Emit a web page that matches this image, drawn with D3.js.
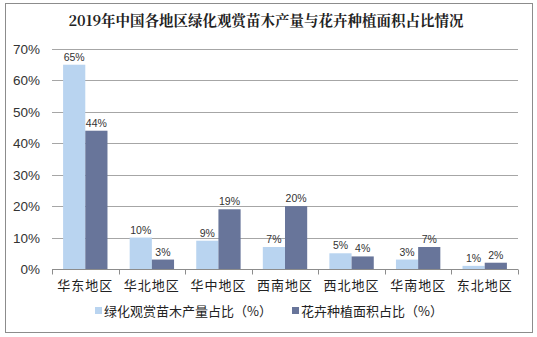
<!DOCTYPE html>
<html><head><meta charset="utf-8">
<script src="https://cdn.jsdelivr.net/npm/d3@7"></script>
<style>body{margin:0;background:#fff;}svg{display:block;}</style>
</head><body>
<svg id="c" width="537" height="337"></svg>
<script>
const categories = ["华东地区","华北地区","华中地区","西南地区","西北地区","华南地区","东北地区"];
const seedlingShare = [65,10,9,7,5,3,1];
const flowerShare = [44,3,19,20,4,7,2];
const seriesNames = ["绿化观赏苗木产量占比（%）","花卉种植面积占比（%）"];
const yTicks = [0,10,20,30,40,50,60,70];
const colors = ["#B9D4F0","#68759A"];
const font = "'Liberation Sans', Arial, 'Noto Sans CJK SC', sans-serif";

const svg = d3.select("#c");
svg.append("rect").attr("x",5.5).attr("y",3.5).attr("width",527).attr("height",329)
  .attr("fill","#fff").attr("stroke","#8c8c8c").attr("stroke-width",1);

svg.append("text").attr("x",266).attr("y",26).attr("text-anchor","middle")
  .attr("font-family","'Noto Serif CJK SC','Noto Sans CJK SC',serif").attr("font-weight","bold")
  .attr("font-size",14.5).attr("fill","#222").text("2019年中国各地区绿化观赏苗木产量与花卉种植面积占比情况");

const x = d3.scaleBand().domain(categories).range([52,518]).paddingInner(0).paddingOuter(0);
const y = d3.scaleLinear().domain([0,70]).range([269,49]);
const xs = d3.scaleBand().domain([0,1]).range([0,x.bandwidth()]).paddingInner(0).paddingOuter(0.5);

// gridlines
svg.append("g").selectAll("line").data(yTicks.filter(d=>d>0)).join("line")
  .attr("x1",52).attr("x2",518).attr("y1",d=>Math.round(y(d))+0.5).attr("y2",d=>Math.round(y(d))+0.5)
  .attr("stroke","#a6a6a6").attr("stroke-width",1);

// y labels
svg.append("g").selectAll("text").data(yTicks).join("text")
  .attr("x",40).attr("y",d=>y(d)+5).attr("text-anchor","end")
  .attr("font-family",font).attr("font-size",13.5).attr("fill","#333").text(d=>d+"%");

const data = [seedlingShare, flowerShare];
data.forEach((vals,si)=>{
  const g = svg.append("g");
  g.selectAll("rect").data(vals).join("rect")
    .attr("x",(d,i)=>x(categories[i])+xs(si)).attr("width",xs.bandwidth())
    .attr("y",d=>y(d)).attr("height",d=>y(0)-y(d)).attr("fill",colors[si]);
  g.selectAll("text").data(vals).join("text")
    .attr("x",(d,i)=>x(categories[i])+xs(si)+xs.bandwidth()/2).attr("y",d=>y(d)-4)
    .attr("text-anchor","middle").attr("font-family",font).attr("font-size",10.5).attr("fill","#333")
    .text(d=>d+"%");
});

// x axis
const xa = svg.append("g").attr("transform","translate(0,269.5)");
xa.append("line").attr("x1",52).attr("x2",518).attr("stroke","#8c8c8c");
const tickPos = categories.map(c=>x(c)).concat([518]);
xa.selectAll("line.t").data(tickPos).join("line").attr("class","t")
  .attr("x1",d=>Math.round(d)+0.5).attr("x2",d=>Math.round(d)+0.5).attr("y1",0).attr("y2",5).attr("stroke","#8c8c8c");
xa.selectAll("text").data(categories).join("text")
  .attr("x",d=>x(d)+x.bandwidth()/2).attr("y",20).attr("text-anchor","middle")
  .attr("font-family","'Noto Sans CJK SC',sans-serif").attr("font-size",13).attr("letter-spacing",1).attr("fill","#222").text(d=>d);

// legend
const lg = svg.append("g");
const lx = [95,292];
seriesNames.forEach((n,i)=>{
  lg.append("rect").attr("x",lx[i]).attr("y",307).attr("width",7).attr("height",7).attr("fill",colors[i]);
  lg.append("text").attr("x",lx[i]+9).attr("y",316).attr("font-family","'Noto Sans CJK SC',sans-serif")
    .attr("font-size",13).attr("fill","#222").text(n);
});
</script>
</body></html>
